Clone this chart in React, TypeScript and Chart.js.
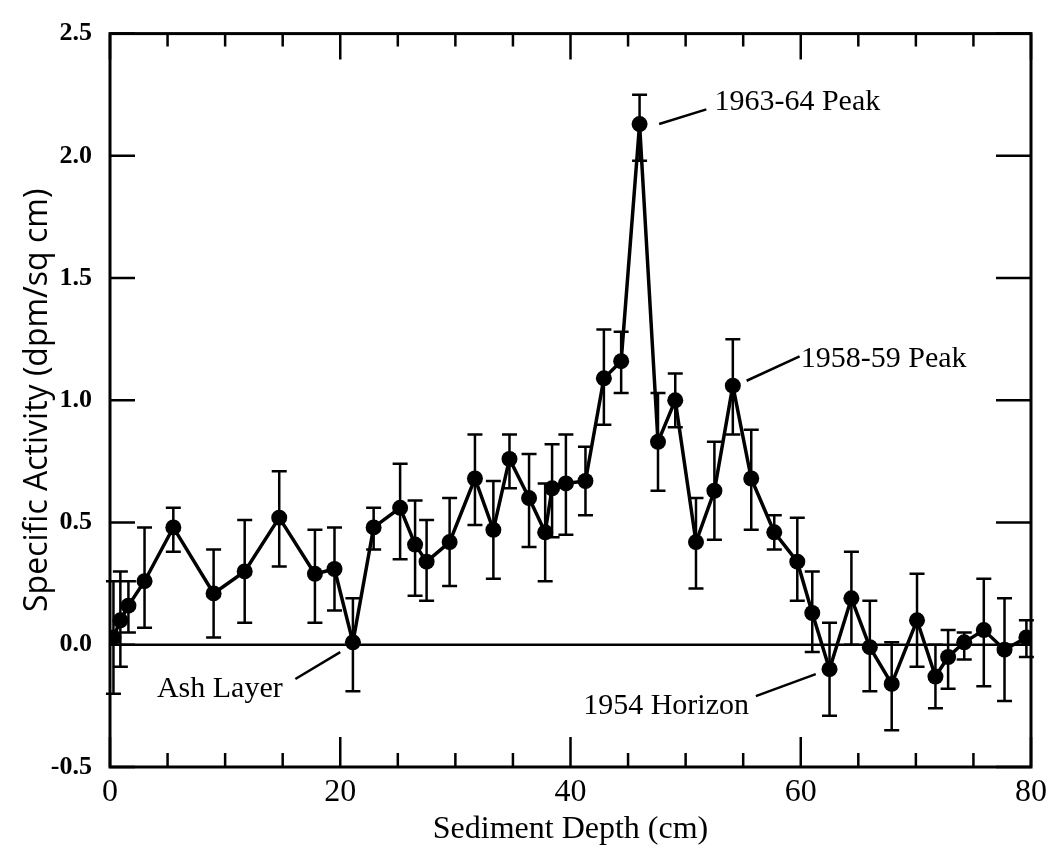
import { useEffect, useRef } from 'react';
import { Chart, registerables } from 'chart.js';

Chart.register(...registerables);

// ---- data ----
const depthCm = [
  0.3, 0.9, 1.6, 3.0, 5.5, 9.0, 11.7, 14.7, 17.8, 19.5, 21.1, 22.9, 25.2, 26.5, 27.5, 29.5,
  31.7, 33.3, 34.7, 36.4, 37.8, 38.4, 39.6, 41.3, 42.9, 44.4, 46.0, 47.6, 49.1, 50.9, 52.5,
  54.1, 55.7, 57.7, 59.7, 61.0, 62.5, 64.4, 66.0, 67.9, 70.1, 71.7, 72.8, 74.2, 75.9, 77.7, 79.6,
];
const activity = [
  0.03, 0.10, 0.16, 0.26, 0.48, 0.21, 0.30, 0.52, 0.29, 0.31, 0.01, 0.48, 0.56, 0.41, 0.34, 0.42,
  0.68, 0.47, 0.76, 0.60, 0.46, 0.64, 0.66, 0.67, 1.09, 1.16, 2.13, 0.83, 1.00, 0.42, 0.63,
  1.06, 0.68, 0.46, 0.34, 0.13, -0.10, 0.19, -0.01, -0.16, 0.10, -0.13, -0.05, 0.01, 0.06, -0.02, 0.03,
];
const errUpper = [
  0.26, 0.30, 0.26, 0.48, 0.56, 0.39, 0.51, 0.71, 0.47, 0.48, 0.19, 0.56, 0.74, 0.59, 0.51, 0.60,
  0.86, 0.67, 0.86, 0.78, 0.66, 0.82, 0.86, 0.81, 1.29, 1.28, 2.25, 1.03, 1.11, 0.60, 0.83,
  1.25, 0.88, 0.53, 0.52, 0.30, 0.09, 0.38, 0.18, 0.01, 0.29, 0.00, 0.06, 0.05, 0.27, 0.19, 0.10,
];
const errLower = [
  -0.20, -0.09, 0.05, 0.07, 0.38, 0.03, 0.09, 0.32, 0.09, 0.14, -0.19, 0.39, 0.35, 0.20, 0.18, 0.24,
  0.49, 0.27, 0.64, 0.40, 0.26, 0.44, 0.45, 0.53, 0.90, 1.03, 1.98, 0.63, 0.89, 0.23, 0.43,
  0.86, 0.47, 0.39, 0.18, -0.03, -0.29, 0.00, -0.19, -0.35, -0.09, -0.26, -0.18, -0.06, -0.17, -0.23, -0.05,
];
const xTickValues = [0, 20, 40, 60, 80];
const xMinorTickValues = [5, 10, 15, 25, 30, 35, 45, 50, 55, 65, 70, 75];
const yTickValues = [-0.5, 0.0, 0.5, 1.0, 1.5, 2.0, 2.5];

const annotationTexts = ['1963-64 Peak', '1958-59 Peak', 'Ash Layer', '1954 Horizon'];

// annotation placement in data units
const annotationPlacement = [
  { from: [47.7, 2.13], to: [51.8, 2.19], at: [52.5, 2.22], align: 'left' },
  { from: [55.3, 1.08], to: [59.9, 1.18], at: [60.0, 1.17], align: 'left' },
  { from: [16.1, -0.14], to: [20.0, -0.03], at: [15.0, -0.18], align: 'right' },
  { from: [56.1, -0.21], to: [61.3, -0.12], at: [55.5, -0.25], align: 'right' },
];

const SERIF = '"Liberation Serif", "Times New Roman", serif';
const SANS = '"Open Sans", "DejaVu Sans", sans-serif';

const decorPlugin = {
  id: 'decor',
  beforeDatasetsDraw(chart: any) {
    const { ctx, chartArea } = chart;
    const xs = chart.scales.x;
    const ys = chart.scales.y;
    ctx.save();
    ctx.strokeStyle = '#000';
    // zero reference line
    ctx.lineWidth = 2.5;
    ctx.beginPath();
    ctx.moveTo(chartArea.left, ys.getPixelForValue(0));
    ctx.lineTo(chartArea.right, ys.getPixelForValue(0));
    ctx.stroke();
    // error bars
    ctx.lineWidth = 2.5;
    const cap = 7.5;
    for (let i = 0; i < depthCm.length; i++) {
      const px = xs.getPixelForValue(depthCm[i]);
      const yt = ys.getPixelForValue(errUpper[i]);
      const yb = ys.getPixelForValue(errLower[i]);
      ctx.beginPath();
      ctx.moveTo(px, yt);
      ctx.lineTo(px, yb);
      ctx.moveTo(px - cap, yt);
      ctx.lineTo(px + cap, yt);
      ctx.moveTo(px - cap, yb);
      ctx.lineTo(px + cap, yb);
      ctx.stroke();
    }
    ctx.restore();
  },
  afterDraw(chart: any) {
    const { ctx, chartArea } = chart;
    const xs = chart.scales.x;
    const ys = chart.scales.y;
    const { left, right, top, bottom } = chartArea;
    ctx.save();
    ctx.strokeStyle = '#000';
    ctx.fillStyle = '#000';
    // frame
    ctx.lineWidth = 3;
    ctx.strokeRect(left, top, right - left, bottom - top);
    // inward ticks
    ctx.lineWidth = 2.5;
    ctx.beginPath();
    for (const v of yTickValues) {
      const py = ys.getPixelForValue(v);
      ctx.moveTo(left, py);
      ctx.lineTo(left + 25, py);
      ctx.moveTo(right, py);
      ctx.lineTo(right - 35, py);
    }
    for (const v of xTickValues) {
      const px = xs.getPixelForValue(v);
      ctx.moveTo(px, bottom);
      ctx.lineTo(px, bottom - 30);
      ctx.moveTo(px, top);
      ctx.lineTo(px, top + 26);
    }
    for (const v of xMinorTickValues) {
      const px = xs.getPixelForValue(v);
      ctx.moveTo(px, bottom);
      ctx.lineTo(px, bottom - 14);
      ctx.moveTo(px, top);
      ctx.lineTo(px, top + 13);
    }
    ctx.stroke();
    // annotations
    ctx.font = `30px ${SERIF}`;
    ctx.textBaseline = 'middle';
    ctx.lineWidth = 2.5;
    annotationTexts.forEach((t, i) => {
      const a = annotationPlacement[i];
      ctx.beginPath();
      ctx.moveTo(xs.getPixelForValue(a.from[0]), ys.getPixelForValue(a.from[1]));
      ctx.lineTo(xs.getPixelForValue(a.to[0]), ys.getPixelForValue(a.to[1]));
      ctx.stroke();
      ctx.textAlign = a.align as CanvasTextAlign;
      ctx.fillText(t, xs.getPixelForValue(a.at[0]), ys.getPixelForValue(a.at[1]));
    });
    ctx.restore();
  },
};

export default function App() {
  const ref = useRef<HTMLCanvasElement | null>(null);
  useEffect(() => {
    if (!ref.current) return;
    const chart = new Chart(ref.current, {
      type: 'line',
      data: {
        datasets: [
          {
            label: 'Specific Activity',
            data: depthCm.map((x, i) => ({ x, y: activity[i] })),
            borderColor: '#000',
            borderWidth: 3.5,
            pointRadius: 8,
            pointBackgroundColor: '#000',
            pointBorderWidth: 0,
            tension: 0,
            fill: false,
          },
        ],
      },
      options: {
        responsive: false,
        animation: false,
        events: [],
        layout: { padding: { top: 22, right: 21, left: 0, bottom: 0 } },
        plugins: { legend: { display: false }, tooltip: { enabled: false } },
        scales: {
          x: {
            type: 'linear',
            min: 0,
            max: 80,
            afterBuildTicks: (s: any) => {
              s.ticks = xTickValues.map((v) => ({ value: v }));
            },
            ticks: {
              autoSkip: false,
              maxRotation: 0,
              color: '#000',
              padding: 6,
              font: { family: SERIF, size: 32 },
              callback: (v: any) => String(v),
            },
            grid: { display: false, drawTicks: false },
            border: { display: false },
            title: {
              display: true,
              text: 'Sediment Depth (cm)',
              color: '#000',
              font: { family: SERIF, size: 32 },
              padding: { top: 0, bottom: 0 },
            },
            afterFit: (s: any) => {
              s.height = 82;
            },
          },
          y: {
            type: 'linear',
            min: -0.5,
            max: 2.5,
            afterBuildTicks: (s: any) => {
              s.ticks = yTickValues.map((v) => ({ value: v }));
            },
            ticks: {
              autoSkip: false,
              color: '#000',
              padding: 18,
              font: { family: SERIF, size: 26, weight: 'bold' },
              callback: (v: any) => Number(v).toFixed(1),
            },
            grid: { display: false, drawTicks: false },
            border: { display: false },
            title: {
              display: true,
              text: 'Specific Activity (dpm/sq cm)',
              color: '#000',
              font: { family: SANS, size: 32 },
              padding: { top: 19, bottom: 0 },
            },
            afterFit: (s: any) => {
              s.width = 110;
            },
          },
        },
      },
      plugins: [decorPlugin],
    });
    return () => chart.destroy();
  }, []);
  return (
    <div style={{ position: 'fixed', left: 0, top: 0, width: 1053, height: 849, background: '#fff' }}>
      <canvas ref={ref} width={1053} height={849} />
    </div>
  );
}
